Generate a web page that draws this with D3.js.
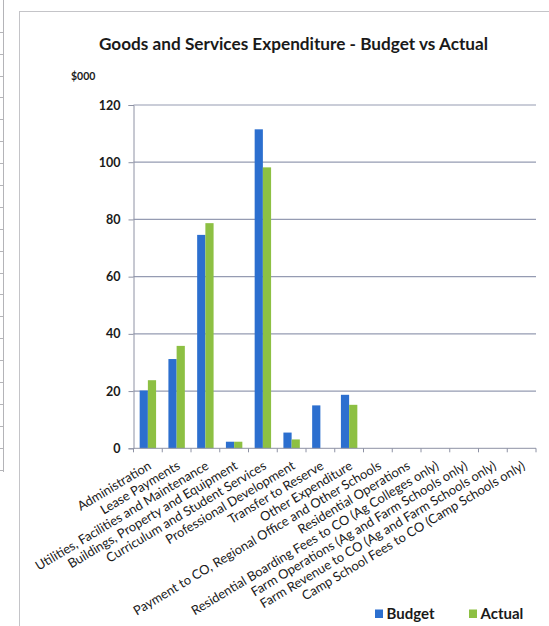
<!DOCTYPE html>
<html>
<head>
<meta charset="utf-8">
<script src="https://cdn.jsdelivr.net/npm/d3@7"></script>
<style>
  html, body { margin: 0; padding: 0; background: #fff; }
  svg { display: block; }
  text { font-family: Lato, "Open Sans", "DejaVu Sans", sans-serif; fill: #1a1a1a; }
</style>
</head>
<body>
<svg id="chart" width="549" height="626"></svg>
<script>
// Goods and services expenditure ($000), budget vs actual by category
const categories = [
  "Administration",
  "Lease Payments",
  "Utilities, Facilities and Maintenance",
  "Buildings, Property and Equipment",
  "Curriculum and Student Services",
  "Professional Development",
  "Transfer to Reserve",
  "Other Expenditure",
  "Payment to CO, Regional Office and Other Schools",
  "Residential Operations",
  "Residential Boarding Fees to CO (Ag Colleges only)",
  "Farm Operations (Ag and Farm Schools only)",
  "Farm Revenue to CO (Ag and Farm Schools only)",
  "Camp School Fees to CO (Camp Schools only)"
];
const budget = [20.2, 31.2, 74.6, 2.3, 111.5, 5.5, 15.0, 18.7, 0, 0, 0, 0, 0, 0];
const actual = [23.8, 35.8, 78.7, 2.3, 98.2, 3.1, 0, 15.2, 0, 0, 0, 0, 0, 0];
const seriesNames = ["Budget", "Actual"];
const seriesColors = ["#2c6fcf", "#8dc043"];
const yTicks = [0, 20, 40, 60, 80, 100, 120];

const svg = d3.select("#chart");

// scanned-page table edge on the far left
const edge = svg.append("g").attr("stroke", "#b4b4b8").attr("stroke-width", 1);
edge.append("line").attr("x1", 3.5).attr("x2", 3.5).attr("y1", 0).attr("y2", 472);
edge.selectAll("line.row").data(d3.range(31.7, 470, 21.9)).join("line")
  .attr("class", "row")
  .attr("x1", 0).attr("x2", 3.5)
  .attr("y1", d => Math.round(d) + 0.5).attr("y2", d => Math.round(d) + 0.5);

// chart frame
svg.append("rect")
  .attr("x", 19.5).attr("y", 11.5)
  .attr("width", 560).attr("height", 640)
  .attr("fill", "#fff").attr("stroke", "#c4c4c8").attr("stroke-width", 1);

const plot = { left: 133.5, right: 536, top: 105, bottom: 448.3 };

const x0 = d3.scaleBand()
  .domain(categories)
  .range([plot.left, plot.right])
  .paddingInner(0.4286)
  .paddingOuter(0.2143);
const x1 = d3.scaleBand()
  .domain(seriesNames)
  .range([0, x0.bandwidth()]);
const y = d3.scaleLinear().domain([0, 120]).range([plot.bottom, plot.top]);

// gridlines
svg.append("g")
  .selectAll("line").data(yTicks.filter(d => d > 0)).join("line")
  .attr("x1", plot.left).attr("x2", plot.right)
  .attr("y1", d => y(d)).attr("y2", d => y(d))
  .attr("stroke", "#959bb2").attr("stroke-width", 1.2);

// bars
const rows = categories.map((c, i) => ({ cat: c, values: [budget[i], actual[i]] }));
svg.append("g")
  .selectAll("g").data(rows).join("g")
  .attr("transform", d => `translate(${x0(d.cat)},0)`)
  .selectAll("rect")
  .data(d => d.values.map((v, k) => ({ name: seriesNames[k], value: v, k })))
  .join("rect")
  .attr("x", d => x1(d.name))
  .attr("width", x1.bandwidth())
  .attr("y", d => y(d.value))
  .attr("height", d => plot.bottom - y(d.value))
  .attr("fill", d => seriesColors[d.k]);

// y axis
const yAxis = svg.append("g")
  .attr("transform", `translate(${plot.left},0)`)
  .call(d3.axisLeft(y).tickValues(yTicks).tickSize(5).tickPadding(8));
yAxis.select(".domain").attr("stroke", "#8e92a4");
yAxis.selectAll(".tick line").attr("stroke", "#8e92a4");
yAxis.selectAll(".tick text")
  .style("font-family", "Lato, sans-serif")
  .attr("font-size", 12.5).attr("font-weight", 700).attr("fill", "#1a1a1a");

// x axis: ticks between categories
const xAxis = svg.append("g").attr("transform", `translate(0,${plot.bottom})`);
xAxis.append("line")
  .attr("x1", plot.left).attr("x2", plot.right)
  .attr("y1", 0).attr("y2", 0)
  .attr("stroke", "#8e92a4");
const step = x0.step();
xAxis.selectAll("line.tick").data(d3.range(categories.length + 1)).join("line")
  .attr("class", "tick")
  .attr("x1", i => plot.left + i * step).attr("x2", i => plot.left + i * step)
  .attr("y1", 0).attr("y2", 4)
  .attr("stroke", "#8e92a4");

// rotated category labels
xAxis.selectAll("text").data(categories).join("text")
  .attr("transform", d => `translate(${x0(d) + x0.bandwidth() / 2 + 2},${16}) rotate(-31)`)
  .attr("text-anchor", "end")
  .attr("dy", "0.35em")
  .attr("font-size", 12.9)
  .text(d => d);

// title and unit label
svg.append("text")
  .attr("x", 293.5).attr("y", 50)
  .attr("text-anchor", "middle")
  .attr("font-size", 17.2).attr("font-weight", 700)
  .text("Goods and Services Expenditure - Budget vs Actual");
svg.append("text")
  .attr("x", 71).attr("y", 80)
  .attr("font-size", 10.5).attr("font-weight", 700)
  .text("$000");

// legend
const legendX = [375, 469];
const legend = svg.append("g").selectAll("g").data(seriesNames).join("g")
  .attr("transform", (d, i) => `translate(${legendX[i]},609.5)`);
legend.append("rect")
  .attr("width", 8).attr("height", 8.5)
  .attr("fill", (d, i) => seriesColors[i]);
legend.append("text")
  .attr("x", 11.5).attr("y", 9.5)
  .attr("font-size", 15).attr("font-weight", 700)
  .text(d => d);
</script>
</body>
</html>
